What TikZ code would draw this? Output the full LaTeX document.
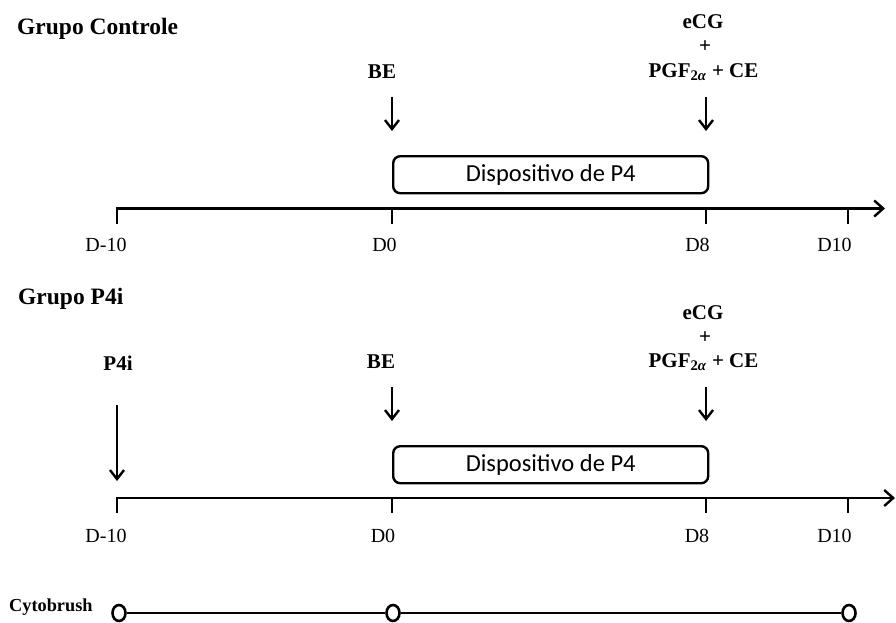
\documentclass[tikz,border=0pt]{standalone}
\usepackage{fontspec}
\setmainfont{Liberation Serif}
\newfontfamily\calib{Carlito}
\usetikzlibrary{arrows.meta,shapes.geometric}
\tikzset{
  hdr/.style={font=\fontsize{23.5}{26}\selectfont\bfseries, anchor=base west, inner sep=0pt},
  daylbl/.style={font=\fontsize{20}{22}\selectfont, inner sep=0pt},
  drug/.style={font=\fontsize{21}{24}\selectfont\bfseries, inner sep=0pt},
  device/.style={draw, rounded corners=7pt, line width=2.4pt, minimum width=315pt,
    minimum height=37pt, inner sep=0pt, font=\calib\fontsize{24.5}{27}\selectfont},
  axisline/.style={line width=2.8pt, -{Straight Barb[length=9pt,width=16pt,line width=2.4pt]}},
  tickline/.style={line width=2.8pt},
  dose/.style={line width=2.4pt, -{Straight Barb[length=9pt,width=14pt,line width=2.4pt]}},
  brushdot/.style={draw, ellipse, line width=2.6pt, fill=white, minimum width=13pt, minimum height=16pt, inner sep=0pt},
}
\begin{document}
\begin{tikzpicture}[x=1pt,y=-1pt]
\useasboundingbox (0,0) rectangle (896,623);
\fill[white] (0,0) rectangle (896,623);

% ---------- Grupo Controle ----------
\node[hdr] (h1) at (17,35) {Grupo Controle};

\node[drug] (be1) at (382,72) {BE};
\node[drug] (ecg1) at (703,22) {eCG};
\node[drug] (plus1) at (705,47) {+};
\node[drug] (pgf1) at (703.5,72) {PGF\textsubscript{2\textit{α}} + CE};

\coordinate (be1a) at (392,97);
\coordinate (be1b) at (392,131);
\coordinate (d81a) at (706,97);
\coordinate (d81b) at (706,131);
\draw[dose] (be1a) -- (be1b);
\draw[dose] (d81a) -- (d81b);

\node[device, anchor=north west] (box1) at (392,155) {Dispositivo de P4};

\coordinate (ax1s) at (117,224);
\coordinate (ax1c) at (117,208.5);
\coordinate (ax1e) at (885,208.5);
\draw[axisline] (ax1s) -- (ax1c) -- (ax1e);
\coordinate (t1a) at (392,208.5); \coordinate (t1b) at (392,224);
\coordinate (t2a) at (706,208.5); \coordinate (t2b) at (706,224);
\coordinate (t3a) at (848,208.5); \coordinate (t3b) at (848,224);
\draw[tickline] (t1a) -- (t1b) (t2a) -- (t2b) (t3a) -- (t3b);

\node[daylbl] (l1a) at (106,245) {D-10};
\node[daylbl] (l1b) at (384.5,245) {D0};
\node[daylbl] (l1c) at (697.5,245) {D8};
\node[daylbl] (l1d) at (834.5,245) {D10};

% ---------- Grupo P4i ----------
\node[hdr] (h2) at (18,304) {Grupo P4i};

\node[drug] (p4i) at (118,363) {P4i};
\node[drug] (be2) at (381,362) {BE};
\node[drug] (ecg2) at (703,313) {eCG};
\node[drug] (plus2) at (705,338) {+};
\node[drug] (pgf2) at (703.5,362) {PGF\textsubscript{2\textit{α}} + CE};

\coordinate (p4ia) at (117,405);
\coordinate (p4ib) at (117,481);
\coordinate (be2a) at (392,387);
\coordinate (be2b) at (392,421);
\coordinate (d82a) at (706,387);
\coordinate (d82b) at (706,421);
\draw[dose] (p4ia) -- (p4ib);
\draw[dose] (be2a) -- (be2b);
\draw[dose] (d82a) -- (d82b);

\node[device, anchor=north west] (box2) at (392,445) {Dispositivo de P4};

\coordinate (ax2s) at (117,513);
\coordinate (ax2c) at (117,498);
\coordinate (ax2e) at (895,498);
\draw[axisline] (ax2s) -- (ax2c) -- (ax2e);
\coordinate (u1a) at (392,498); \coordinate (u1b) at (392,513);
\coordinate (u2a) at (706,498); \coordinate (u2b) at (706,513);
\coordinate (u3a) at (848,498); \coordinate (u3b) at (848,513);
\draw[tickline] (u1a) -- (u1b) (u2a) -- (u2b) (u3a) -- (u3b);

\node[daylbl] (l2a) at (106,536) {D-10};
\node[daylbl] (l2b) at (383,536) {D0};
\node[daylbl] (l2c) at (697,536) {D8};
\node[daylbl] (l2d) at (834.5,536) {D10};

% ---------- Cytobrush ----------
\node[font=\fontsize{18.3}{20}\selectfont\bfseries, anchor=west, inner sep=0pt] (cyto) at (9,607) {Cytobrush};
\node[brushdot] (c1) at (119,613) {};
\node[brushdot] (c2) at (393,613) {};
\node[brushdot] (c3) at (849,613) {};
\draw[line width=2.8pt] (c1) -- (c2) -- (c3);
\end{tikzpicture}
\end{document}
